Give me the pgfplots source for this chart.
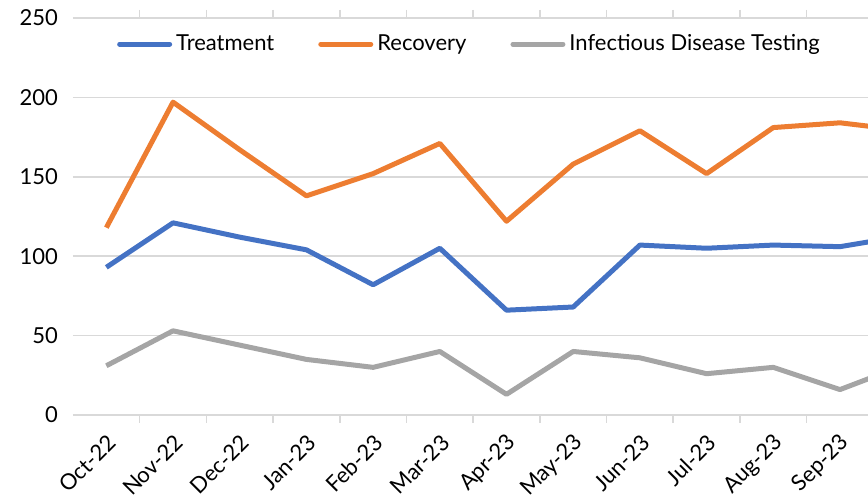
\documentclass[border=0pt]{standalone}
\usepackage{fontspec}
\setmainfont{Lato}
\usepackage{pgfplots}
\pgfplotsset{compat=1.18}

\definecolor{treat}{HTML}{4472C4}
\definecolor{recov}{HTML}{ED7D31}
\definecolor{idt}{HTML}{A5A5A5}
\definecolor{gridc}{HTML}{D9D9D9}

% index 0 = Oct-22 ... 12 = Oct-23 (cut off at the right edge)
\pgfplotstableread{
x treatment recovery testing
0  93  118 31
1  121 197 53
2  112 167 44
3  104 138 35
4  82  152 30
5  105 171 40
6  66  122 13
7  68  158 40
8  107 179 36
9  105 152 26
10 107 181 30
11 106 184 16
12 113 179 32
}\datatable

\begin{document}
\begin{tikzpicture}
\begin{axis}[
    scale only axis,
    width=397.5pt, height=198.5pt,
    font=\fontsize{11}{13}\selectfont,
    /pgf/number format/assume math mode=true,
    xmin=-0.5, xmax=11.42,
    ymin=0, ymax=250,
    ytick={0,50,...,250},
    ymajorgrids,
    grid style={gridc, line width=0.8pt},
    axis line style={draw=none},
    major tick length=0pt,
    yticklabel style={xshift=-4pt},
    xtick={0,...,11},
    xticklabels={Oct-22,Nov-22,Dec-22,Jan-23,Feb-23,Mar-23,Apr-23,May-23,Jun-23,Jul-23,Aug-23,Sep-23},
    xticklabel style={rotate=45, anchor=east, yshift=-10.5pt, xshift=-3pt},
    minor xtick={0.5,1.5,...,11.5},
    minor tick length=4pt,
    tick align=outside,
    minor tick style={gridc, line width=0.8pt},
    clip=true,
    legend style={at={(0.5,0.934)}, anchor=center, draw=none, fill=none,
        legend columns=-1, column sep=0pt,
        /tikz/every even column/.append style={column sep=20pt}},
    legend image code/.code={\draw[#1, line width=2.5pt, line cap=round] (0pt,0pt) -- (25pt,0pt);},
    every axis plot/.append style={line width=2.5pt, line join=round, mark=none},
]
\draw[gridc, line width=0.8pt] (axis cs:-0.5,0) -- (axis cs:11.42,0);
\addplot[treat] table[x=x, y=treatment] {\datatable};
\addlegendentry{Treatment}
\addplot[recov] table[x=x, y=recovery] {\datatable};
\addlegendentry{Recovery}
\addplot[idt] table[x=x, y=testing] {\datatable};
\addlegendentry{Infectious Disease Testing}
\end{axis}
\pgfresetboundingbox
\path[use as bounding box] ([xshift=-36.5pt, yshift=-43pt]current axis.south west) rectangle ([yshift=9pt]current axis.north east);
\end{tikzpicture}
\end{document}
